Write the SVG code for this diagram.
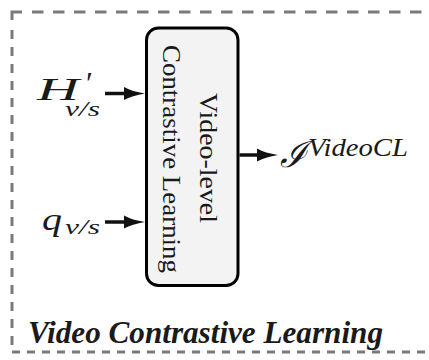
<svg xmlns="http://www.w3.org/2000/svg" width="429" height="360" viewBox="0 0 429 360">
  <style>
    .frame { fill: none; stroke: #7a7a7a; stroke-width: 3; }
    .box { fill: #f3f3f3; stroke: #000; stroke-width: 3; }
    .serif { font-family: "Liberation Serif", "Times New Roman", serif; fill: #1a1a1a; }
    .math { font-family: "Liberation Serif", "Times New Roman", serif; font-style: italic; fill: #1a1a1a; }
    .shaft { stroke: #111; stroke-width: 3.5; fill: none; }
    .title { font-family: "Liberation Serif", "Times New Roman", serif; font-style: italic; font-weight: bold; fill: #1a1a1a; }
  </style>
  <defs>
    <marker id="head" viewBox="0 0 21 14" refX="11" refY="7" markerWidth="21" markerHeight="14" markerUnits="userSpaceOnUse" orient="auto">
      <path d="M0,0.5 Q8,5 21,7 Q8,9 0,13.5 Z" fill="#111"/>
    </marker>
  </defs>

  <!-- dashed frame -->
  <g id="frame">
    <path class="frame" d="M12,20 V12 H22"/>
    <line class="frame" x1="32" y1="12" x2="429" y2="12" stroke-dasharray="11.5 9.5"/>
    <line class="frame" x1="12" y1="30" x2="12" y2="352" stroke-dasharray="9 8"/>
    <line class="frame" x1="12" y1="352" x2="429" y2="352" stroke-dasharray="8 7"/>
  </g>

  <!-- processing block -->
  <g id="video-cl-block">
    <rect class="box" x="146.5" y="28" width="91.5" height="257.5" rx="12"/>
    <text class="serif" font-size="26" text-anchor="middle" textLength="130" lengthAdjust="spacingAndGlyphs" transform="translate(200,158) rotate(90)">Video-level</text>
    <text class="serif" font-size="26" text-anchor="middle" textLength="228" lengthAdjust="spacingAndGlyphs" transform="translate(163,159) rotate(90)">Contrastive Learning</text>
  </g>

  <!-- inputs -->
  <g id="input-h">
    <text class="math" x="37" y="100" font-size="31"><tspan textLength="42" lengthAdjust="spacingAndGlyphs">H</tspan><tspan x="84" y="94" font-size="32">′</tspan><tspan x="65" y="116" font-size="21" textLength="35" lengthAdjust="spacingAndGlyphs">v/s</tspan></text>
  </g>
  <g id="input-q">
    <text class="math" x="42" y="230" font-size="32"><tspan textLength="20" lengthAdjust="spacingAndGlyphs">q</tspan><tspan x="65" y="234" font-size="21" textLength="35" lengthAdjust="spacingAndGlyphs">v/s</tspan></text>
  </g>

  <!-- output -->
  <g id="output-loss">
    <text class="math" x="280" y="167" font-size="36"><tspan font-family="DejaVu Serif">ℐ</tspan><tspan x="308" y="156" font-size="26" textLength="100" lengthAdjust="spacingAndGlyphs">VideoCL</tspan></text>
  </g>

  <!-- connectors -->
  <g id="connectors">
    <line class="shaft" x1="105" y1="93.5" x2="135" y2="93.5" marker-end="url(#head)"/>
    <line class="shaft" x1="105" y1="222" x2="135" y2="222" marker-end="url(#head)"/>
    <line class="shaft" x1="239.5" y1="155" x2="268" y2="155" marker-end="url(#head)"/>
  </g>

  <!-- caption -->
  <g id="caption">
    <text class="title" x="28" y="343" font-size="31" textLength="355" lengthAdjust="spacingAndGlyphs">Video Contrastive Learning</text>
  </g>
</svg>
